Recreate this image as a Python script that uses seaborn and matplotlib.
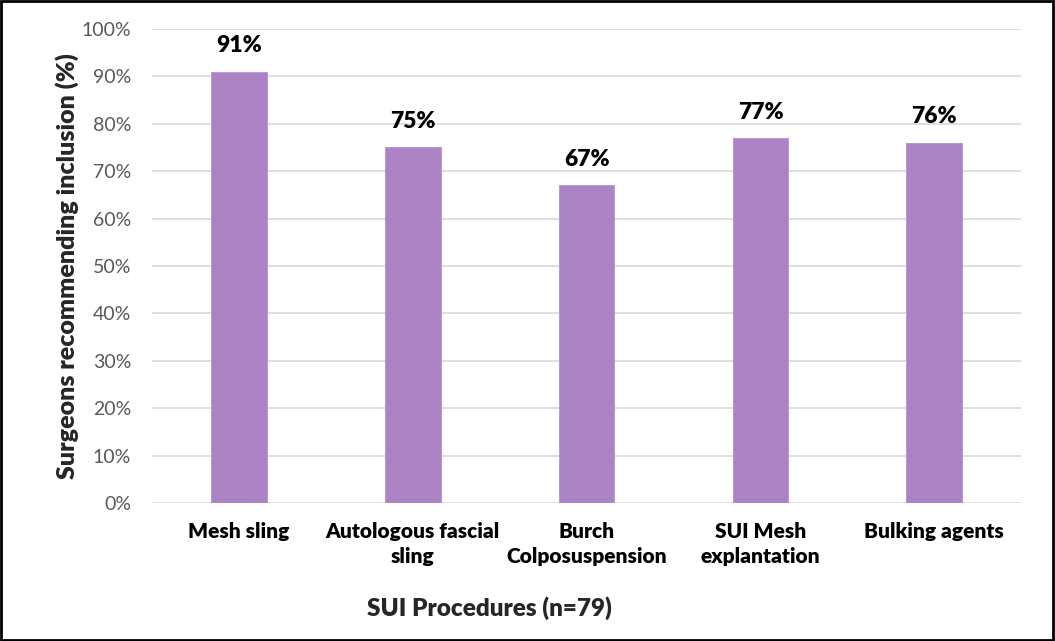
import matplotlib
matplotlib.use("Agg")
import matplotlib.pyplot as plt
import seaborn as sns
import pandas as pd
from matplotlib.ticker import PercentFormatter
from matplotlib.patches import Rectangle

categories = ["Mesh sling", "Autologous fascial\nsling", "Burch\nColposuspension",
              "SUI Mesh\nexplantation", "Bulking agents"]
values = [91, 75, 67, 77, 76]
yticks = list(range(0, 101, 10))

sns.set_theme(style="white")
plt.rcParams['font.family'] = ['Lato', 'DejaVu Sans']

df = pd.DataFrame({"cat": categories, "val": values})
fig = plt.figure(figsize=(10.55, 6.41), dpi=100)
ax = fig.add_axes([0.144, 0.2153, 0.824, 0.7395])

sns.barplot(data=df, x="cat", y="val", color="#AB83C5", saturation=1,
            width=0.32, edgecolor="#B99ACF", linewidth=0.8, ax=ax, zorder=3)

ax.set_ylim(0, 100)
ax.set_yticks(yticks)
ax.yaxis.set_major_formatter(PercentFormatter(decimals=0))
ax.grid(axis="y", color="#D9D9D9", linewidth=1.2, zorder=0)
ax.set_axisbelow(True)
for s in ax.spines.values():
    s.set_visible(False)
ax.tick_params(axis="y", labelsize=14, colors="#595959", length=0, pad=15)
ax.tick_params(axis="x", labelsize=15, length=0, pad=14)
for lbl in ax.get_xticklabels():
    lbl.set_fontweight("heavy")
    lbl.set_color("black")
    lbl.set_multialignment("center")
    lbl.set_linespacing(1.35)

for p, v in zip(ax.patches, values):
    ax.annotate(f"{v}%", (p.get_x() + p.get_width() / 2, v), xytext=(0, 11),
                textcoords="offset points", ha="center", va="bottom",
                fontsize=16.5, fontweight="heavy", color="black")

ax.set_xlabel("SUI Procedures (n=79)", fontsize=17.5, fontweight="heavy")
ax.xaxis.set_label_coords(0.388, -0.197)
ax.set_ylabel("Surgeons recommending inclusion (%)", fontsize=18, fontweight="heavy", labelpad=2)

fig.patches.append(Rectangle((0.001, 0.002), 0.997, 0.996, transform=fig.transFigure,
                             fill=False, edgecolor="black", linewidth=2))

fig.savefig("out.png", dpi=100)
